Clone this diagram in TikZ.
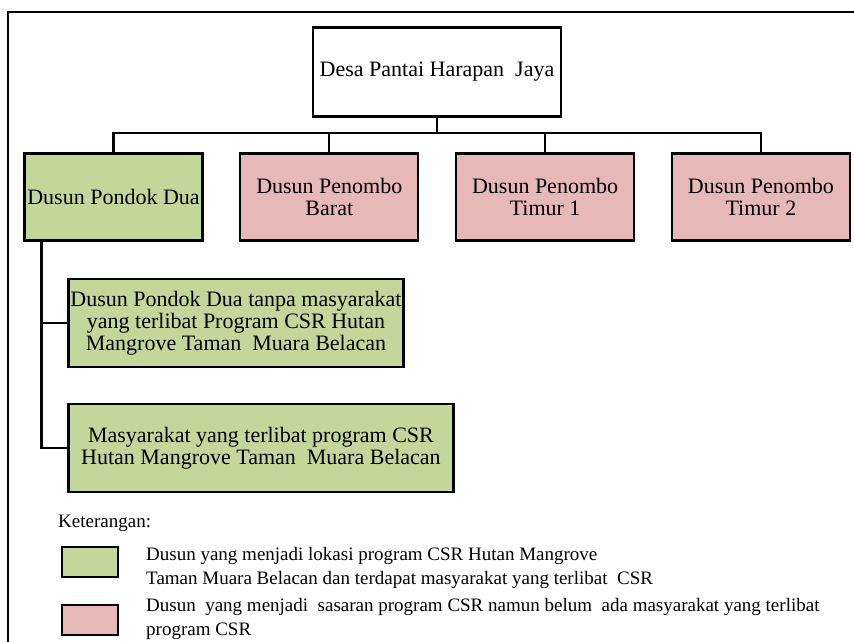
\documentclass[tikz,border=0pt]{standalone}
\usepackage{fontspec}
\setmainfont{Liberation Serif}
\usetikzlibrary{positioning}
\definecolor{dusungreen}{RGB}{196,215,155}
\definecolor{dusunpink}{RGB}{230,184,183}

\begin{document}
\begin{tikzpicture}[
  x=1pt, y=-1pt,
  node distance=35.6pt,
  unit/.style={draw,line width=2.2pt,align=center,inner sep=2pt,
               font=\fontsize{22}{22}\selectfont,minimum height=87pt},
  greenbox/.style={unit,fill=dusungreen},
  pinkbox/.style={unit,fill=dusunpink,minimum width=178pt},
  link/.style={line width=2.2pt},
  swatch/.style={draw,line width=2.2pt,minimum width=56pt,minimum height=30pt,
                 inner sep=0pt},
  legtext/.style={anchor=west,align=left,inner sep=0pt,
                  font=\fontsize{19}{24}\selectfont}
]
\useasboundingbox (0,0) rectangle (854,641);
\draw[line width=1.8pt] (8,12) rectangle (900,700);

% desa and dusun
\node[unit,fill=white,minimum width=248pt,minimum height=89pt] (desa) at (437,72)
  {Desa Pantai Harapan\ \ Jaya};
\node[greenbox,minimum width=178pt] (pondok) at (113.5,197) {Dusun Pondok Dua};
\node[pinkbox,right=of pondok] (barat) {Dusun Penombo\\Barat};
\node[pinkbox,right=of barat] (timur1) {Dusun Penombo\\Timur 1};
\node[pinkbox,right=of timur1] (timur2) {Dusun Penombo\\Timur 2};

% bagian dusun pondok dua
\node[greenbox,minimum width=334pt,minimum height=88pt] (tanpa) at (236,323)
  {Dusun Pondok Dua tanpa masyarakat\\yang terlibat Program CSR Hutan\\Mangrove Taman\ \ Muara Belacan};
\node[greenbox,minimum width=385pt,minimum height=88pt,below=34.8pt of tanpa.south west,
      anchor=north west] (terlibat)
  {Masyarakat yang terlibat program CSR\\Hutan Mangrove Taman\ \ Muara Belacan};

\draw[link] (desa.south) -- ++(0,15) coordinate (bus);
\foreach \d in {pondok,barat,timur1,timur2}
  \draw[link] (bus) -| (\d.north);
\draw[link] ([xshift=18pt]pondok.south west) |- (tanpa.west);
\draw[link] ([xshift=18pt]pondok.south west) |- (terlibat.west);

% keterangan
\node[legtext] (ket) at (58,523) {Keterangan:};
\node[swatch,fill=dusungreen] (keyg) at (90,562) {};
\node[swatch,fill=dusunpink] (keyp) at (90,620) {};
\node[legtext] (keygtext) at (146,568)
  {Dusun yang menjadi lokasi program CSR Hutan Mangrove\\Taman Muara Belacan dan terdapat masyarakat yang terlibat\ \ CSR};
\node[legtext] (keyptext) at (146,619)
  {Dusun\ \ yang menjadi\ \ sasaran program CSR namun belum\ \ ada masyarakat yang terlibat\\program CSR};
\end{tikzpicture}
\end{document}
